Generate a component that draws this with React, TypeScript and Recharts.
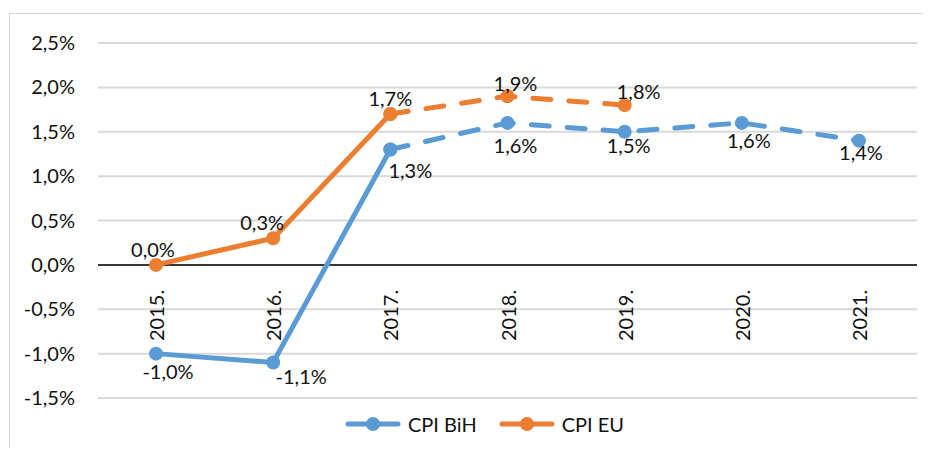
import { LineChart, Line, XAxis, YAxis, CartesianGrid, ReferenceLine, Legend, LabelList } from "recharts";

const years = ["2015.", "2016.", "2017.", "2018.", "2019.", "2020.", "2021."];
const cpiBih = [-1.0, -1.1, 1.3, 1.6, 1.5, 1.6, 1.4];
const cpiEu = [0.0, 0.3, 1.7, 1.9, 1.8];
const yTicks = [-1.5, -1.0, -0.5, 0.0, 0.5, 1.0, 1.5, 2.0, 2.5];
// last year of the solid (actual) part; dashed from here on
const lastActual = 2;

const BLUE = "#5B9BD5";
const ORANGE = "#ED7D31";
const TEXT = "#111";
const FONT = "Lato, 'Open Sans', sans-serif";

const W = 921;
const H = 439;
const M = { top: 29, right: 14, bottom: 54, left: 0 };
const Y_MIN = -1.5;
const Y_MAX = 2.5;
const plotH = H - M.top - M.bottom - 1;
const zeroShift = ((0 - Y_MIN) / (Y_MAX - Y_MIN)) * plotH;

// label nudges per point (centre of text relative to the point)
const bihLabelOffset = [
  [12, 17], [28, 13], [20, 20], [8, 22], [4, 13], [7, 17], [2, 11],
];
const euLabelOffset = [
  [-3, -16], [-11, -16], [0, -16], [8, -13], [14, -14],
];

const fmt = (v: number) => v.toFixed(1).replace(".", ",") + "%";

const data = years.map((year, i) => ({
  year,
  bihActual: i <= lastActual ? cpiBih[i] : null,
  bihForecast: i >= lastActual ? cpiBih[i] : null,
  euActual: i <= lastActual && i < cpiEu.length ? cpiEu[i] : null,
  euForecast: i >= lastActual && i < cpiEu.length ? cpiEu[i] : null,
}));

function makeLabel(offsets: number[][], from: number, to: number) {
  return (props: any) => {
    const { x, y, value, index } = props;
    if (value == null || x == null || y == null) return null;
    if (index < from || index > to) return null;
    const [dx, dy] = offsets[index] || [0, 0];
    return (
      <text
        x={x + dx}
        y={y + dy}
        textAnchor="middle"
        dominantBaseline="central"
        fontSize={20}
        fontFamily={FONT}
        fill={TEXT}
      >
        {fmt(Number(value))}
      </text>
    );
  };
}

const yearTick = (props: any) => {
  const { x, y, payload } = props;
  return (
    <text
      transform={`translate(${x},${y - zeroShift + 17}) rotate(-90)`}
      textAnchor="end"
      dominantBaseline="central"
      fontSize={20}
      fontFamily={FONT}
      fill={TEXT}
    >
      {payload.value}
    </text>
  );
};

function LegendContent({ payload }: any) {
  const items = (payload || []).filter((p: any) => p.type !== "none");
  return (
    <div style={{ display: "flex", alignItems: "center", gap: 22, height: 24 }}>
      {items.map((p: any) => (
        <div key={p.value} style={{ display: "flex", alignItems: "center", gap: 7 }}>
          <svg width={56} height={16}>
            <line x1={3} y1={8} x2={53} y2={8} stroke={p.color} strokeWidth={5} strokeLinecap="round" />
            <circle cx={28} cy={8} r={7} fill={p.color} />
          </svg>
          <span style={{ fontSize: 20, fontFamily: FONT, color: TEXT }}>{p.value}</span>
        </div>
      ))}
    </div>
  );
}

export default function App() {
  return (
    <div
      style={{
        position: "relative",
        top: 5,
        left: 1,
        width: 922,
        height: 440,
        boxSizing: "border-box",
        borderTop: "1px solid #d9d9d9",
        borderLeft: "1px solid #d9d9d9",
        background: "#fff",
        fontFamily: FONT,
      }}
    >
      <LineChart width={W} height={H} data={data} margin={M}>
        <CartesianGrid vertical={false} stroke="#d9d9d9" strokeWidth={2} />
        <XAxis
          dataKey="year"
          height={1}
          axisLine={false}
          tickLine={false}
          interval={0}
          padding={{ left: 58, right: 58 }}
          tick={yearTick}
        />
        <YAxis
          domain={[Y_MIN, Y_MAX]}
          ticks={yTicks}
          tickFormatter={fmt}
          axisLine={false}
          tickLine={false}
          tickSize={0}
          tickMargin={23}
          width={88}
          tick={{ fontSize: 20, fontFamily: FONT, fill: TEXT }}
        />
        <ReferenceLine y={0} stroke="#000" strokeWidth={1.5} />
        <Line
          dataKey="bihActual"
          name="CPI BiH"
          stroke={BLUE}
          strokeWidth={5}
          dot={{ r: 7, fill: BLUE, stroke: BLUE, strokeWidth: 0 }}
          isAnimationActive={false}
        >
          <LabelList dataKey="bihActual" content={makeLabel(bihLabelOffset, 0, lastActual)} />
        </Line>
        <Line
          dataKey="bihForecast"
          name="CPI BiH"
          legendType="none"
          stroke={BLUE}
          strokeWidth={5}
          strokeDasharray="18 18"
          strokeLinecap="round"
          dot={{ r: 7, fill: BLUE, stroke: BLUE, strokeWidth: 0, strokeDasharray: "0" }}
          isAnimationActive={false}
        >
          <LabelList dataKey="bihForecast" content={makeLabel(bihLabelOffset, lastActual + 1, years.length - 1)} />
        </Line>
        <Line
          dataKey="euActual"
          name="CPI EU"
          stroke={ORANGE}
          strokeWidth={5}
          dot={{ r: 7, fill: ORANGE, stroke: ORANGE, strokeWidth: 0 }}
          isAnimationActive={false}
        >
          <LabelList dataKey="euActual" content={makeLabel(euLabelOffset, 0, lastActual)} />
        </Line>
        <Line
          dataKey="euForecast"
          name="CPI EU"
          legendType="none"
          stroke={ORANGE}
          strokeWidth={5}
          strokeDasharray="18 18"
          strokeLinecap="round"
          dot={{ r: 7, fill: ORANGE, stroke: ORANGE, strokeWidth: 0, strokeDasharray: "0" }}
          isAnimationActive={false}
        >
          <LabelList dataKey="euForecast" content={makeLabel(euLabelOffset, lastActual + 1, cpiEu.length - 1)} />
        </Line>
        <Legend
          verticalAlign="middle"
          align="center"
          content={<LegendContent />}
          wrapperStyle={{ top: 398, left: 335, width: "auto" }}
        />
      </LineChart>
    </div>
  );
}
